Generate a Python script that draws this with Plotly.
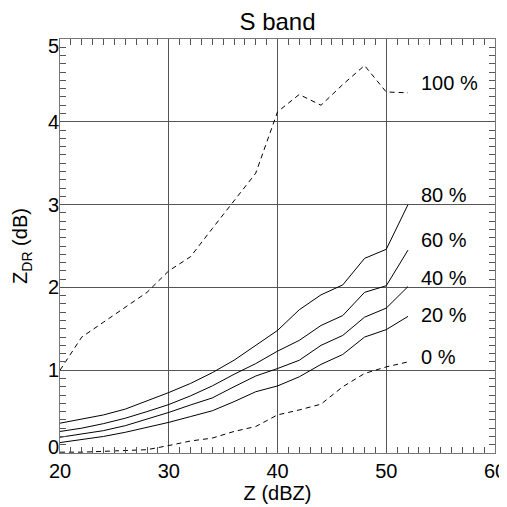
import plotly.graph_objects as go

z = [20, 22, 24, 26, 28, 30, 32, 34, 36, 38, 40, 42, 44, 46, 48, 50, 52]

p100 = [1.00, 1.40, 1.58, 1.76, 1.94, 2.20, 2.37, 2.71, 3.05, 3.38, 4.12, 4.33, 4.20, 4.45, 4.68, 4.36, 4.35]
p80 = [0.36, 0.41, 0.46, 0.53, 0.63, 0.73, 0.84, 0.97, 1.12, 1.30, 1.48, 1.73, 1.91, 2.03, 2.35, 2.46, 3.00]
p60 = [0.26, 0.30, 0.355, 0.42, 0.50, 0.585, 0.69, 0.81, 0.95, 1.08, 1.23, 1.36, 1.54, 1.66, 1.94, 2.02, 2.45]
p40 = [0.19, 0.23, 0.27, 0.33, 0.41, 0.49, 0.58, 0.665, 0.80, 0.93, 1.02, 1.12, 1.30, 1.42, 1.64, 1.75, 2.01]
p20 = [0.126, 0.16, 0.20, 0.25, 0.31, 0.37, 0.44, 0.51, 0.62, 0.74, 0.81, 0.92, 1.07, 1.19, 1.40, 1.49, 1.65]
p0 = [0.01, 0.01, 0.02, 0.03, 0.04, 0.09, 0.145, 0.18, 0.26, 0.32, 0.46, 0.52, 0.59, 0.80, 0.96, 1.04, 1.10]

labels = ["100 %", "80 %", "60 %", "40 %", "20 %", "0 %"]
label_y = [4.47, 3.12, 2.57, 2.11, 1.665, 1.16]
label_x = 53.0

# y tick labels: the end labels sit slightly inside the axis range (as in the reference)
ytick_text = ["0", "1", "2", "3", "4", "5"]
ytick_label_pos = [0.073, 1, 2, 3, 4, 4.92]

series = [p100, p80, p60, p40, p20, p0]
dashed = [True, False, False, False, False, True]
# the label-carrying axis y2 shares range/domain with y, so it needs one trace
yaxes = ["y", "y", "y", "y", "y", "y2"]

fig = go.Figure()
for ys, d, ya in zip(series, dashed, yaxes):
    fig.add_trace(go.Scatter(
        x=z, y=ys, mode="lines", yaxis=ya,
        line=dict(color="black", width=1, dash="5px,4px" if d else "solid"),
        showlegend=False, hoverinfo="skip",
    ))

for t, yy in zip(labels, label_y):
    fig.add_annotation(x=label_x, y=yy, text=t, showarrow=False,
                       xanchor="left", yanchor="middle",
                       font=dict(size=20, color="black"))

axis_common = dict(
    showgrid=True, gridcolor="#555555", gridwidth=1,
    showline=True, linecolor="#777777", linewidth=1, mirror="ticks",
    ticks="inside", ticklen=7, tickcolor="#555555",
    zeroline=False, automargin=False,
    tickfont=dict(size=20, color="black"),
)

# page body has an 8px margin, so the figure is 499x499 placed at (8, 8)
fig.update_layout(
    width=499, height=499,
    margin=dict(l=52, r=12, t=31, b=54),
    paper_bgcolor="white", plot_bgcolor="white",
    font=dict(family="Liberation Sans, Arial, sans-serif", color="black"),
    title=dict(text="S band", x=0.5, xref="paper", y=0.973, yref="container",
               yanchor="middle", font=dict(size=24, color="black"), automargin=False),
    xaxis=dict(range=[20, 60], dtick=10, tick0=20,
               minor=dict(dtick=1, ticks="inside", ticklen=6, tickcolor="#555555", showgrid=False),
               title=dict(text="Z (dBZ)", font=dict(size=20), standoff=4),
               **axis_common),
    yaxis=dict(range=[0, 5], dtick=1, tick0=0, showticklabels=False,
               minor=dict(dtick=0.1, ticks="inside", ticklen=6, tickcolor="#555555", showgrid=False),
               **axis_common),
    yaxis2=dict(range=[0, 5], overlaying="y", side="left",
                tickvals=ytick_label_pos, ticktext=ytick_text,
                showgrid=False, zeroline=False, showline=False, ticks="",
                automargin=False, tickfont=dict(size=20, color="black"),
                title=dict(text="Z<sub>DR</sub> (dB)", font=dict(size=20), standoff=14)),
)

fig.write_html("out.html")
